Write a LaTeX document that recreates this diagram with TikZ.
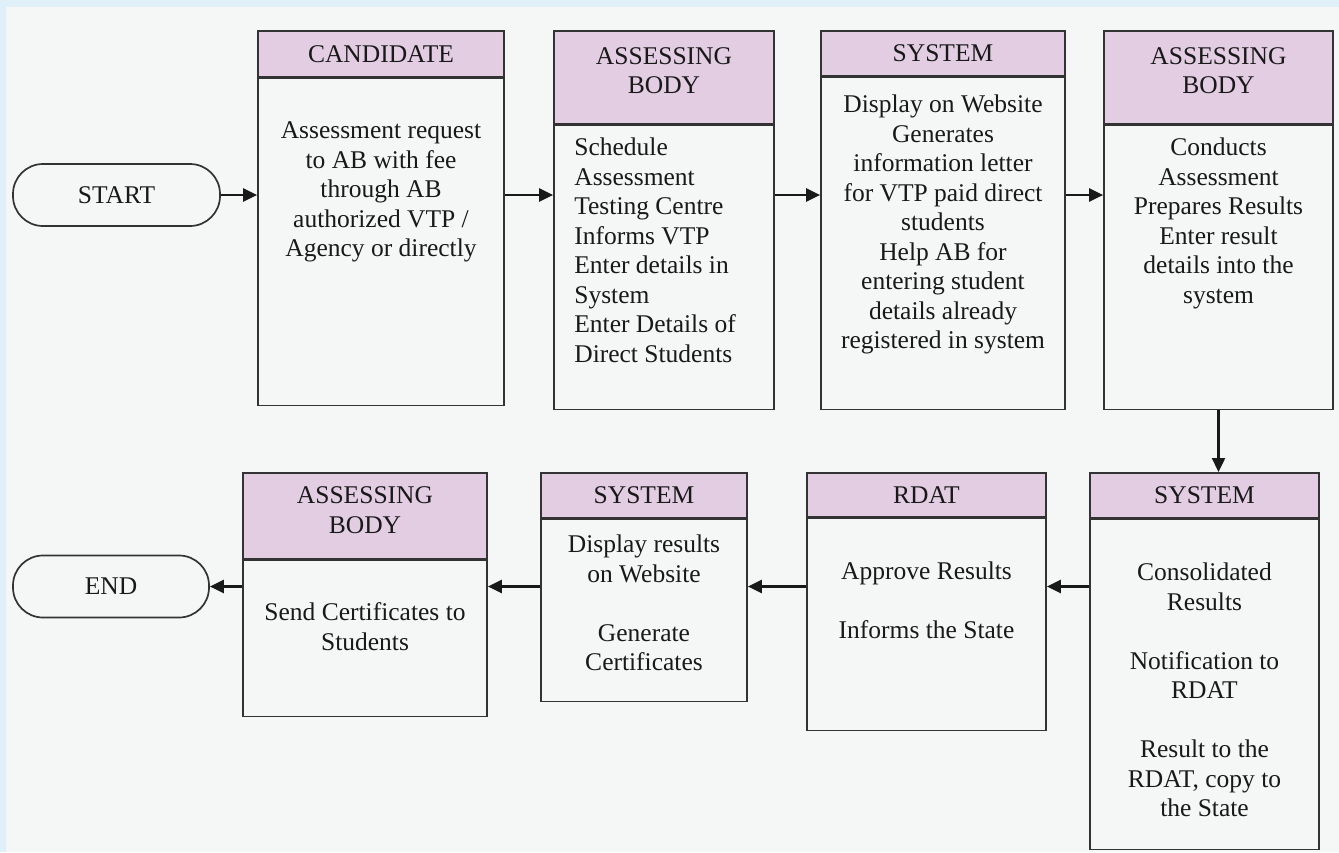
\documentclass[tikz,border=0pt]{standalone}
\usepackage{fontspec}
\setmainfont{Liberation Serif}
\usepackage{xcolor}
\usetikzlibrary{positioning}
\usetikzlibrary{arrows.meta}
\definecolor{headfill}{HTML}{E3CDE3}
\definecolor{boxline}{HTML}{333333}
\definecolor{pagebg}{HTML}{F5F7F7}
\definecolor{pageedge}{HTML}{DFF0F8}
\begin{document}
\begin{tikzpicture}[x=1pt,y=-1pt,
  every node/.style={font=\fontsize{25.5}{29.5}\selectfont, text=black!90},
  term/.style={draw=boxline, line width=1.7pt, rounded corners=30pt, minimum width=#1, minimum height=62pt, inner sep=0pt},
  head/.style n args={2}{draw=boxline, fill=headfill, line width=1.7pt, anchor=north, align=center, inner sep=0pt, minimum width=#1, minimum height=#2},
  body/.style n args={3}{draw=boxline, line width=1.7pt, inner sep=0pt, below=0pt of #1, minimum width=#2, minimum height=#3},
  txt/.style={align=center, inner sep=0pt},
  arr/.style={draw=black!90, line width=2.4pt, -{Triangle[length=14pt,width=13pt]}}]
\fill[pageedge] (0,0) rectangle (1339,852);
\fill[pagebg] (6,7) rectangle (1339,852);
\node[term=207pt] (start) at (116.5,195) {START};
\node[term=196pt] (end) at (111,586.5) {END};
\node[head={246pt}{46pt}] (h1) at (381,30) {CANDIDATE};
\node[body={h1}{246pt}{327pt}] (b1) {};
\node[txt, below=44pt of h1] (t1) {Assessment request\\to AB with fee\\through AB\\authorized VTP /\\Agency or directly};
\node[head={220pt}{93pt}, text depth=14pt] (h2) at (664,30) {ASSESSING\\BODY};
\node[body={h2}{220pt}{284pt}] (b2) {};
\node[txt, align=left, below right=13pt and 21pt of b2.north west] (t2) {Schedule\\Assessment\\Testing Centre\\Informs VTP\\Enter details in\\System\\Enter Details of\\Direct Students};
\node[head={244pt}{45pt}] (h3) at (943,30) {SYSTEM};
\node[body={h3}{244pt}{332pt}] (b3) {};
\node[txt, below=18pt of h3] (t3) {Display on Website\\Generates\\information letter\\for VTP paid direct\\students\\Help AB for\\entering student\\details already\\registered in system};
\node[head={229pt}{93pt}, text depth=14pt] (h4) at (1218.5,30) {ASSESSING\\BODY};
\node[body={h4}{229pt}{284pt}] (b4) {};
\node[txt, below=13pt of h4] (t4) {Conducts\\Assessment\\Prepares Results\\Enter result\\details into the\\system};
\node[head={229pt}{45pt}] (h5) at (1204.5,472) {SYSTEM};
\node[body={h5}{229pt}{330pt}] (b5) {};
\node[txt, below=44pt of h5] (t5) {Consolidated\\Results\\[29.5pt]Notification to\\RDAT\\[29.5pt]Result to the\\RDAT, copy to\\the State};
\node[head={239pt}{44pt}] (h6) at (926.5,472) {RDAT};
\node[body={h6}{239pt}{212pt}] (b6) {};
\node[txt, below=44pt of h6] (t6) {Approve Results\\[29.5pt]Informs the State};
\node[head={206pt}{45pt}] (h7) at (644,472) {SYSTEM};
\node[body={h7}{206pt}{182pt}] (b7) {};
\node[txt, below=16pt of h7] (t7) {Display results\\on Website\\[29.5pt]Generate\\Certificates};
\node[head={244pt}{86pt}, text depth=12pt] (h8) at (365,472) {ASSESSING\\BODY};
\node[body={h8}{244pt}{156pt}] (b8) {};
\node[txt, below=43pt of h8] (t8) {Send Certificates to\\Students};
\draw[arr] (start.east) -- (start.east -| b1.west);
\draw[arr] (b1.east |- start) -- (b2.west |- start);
\draw[arr] (b2.east |- start) -- (b3.west |- start);
\draw[arr] (b3.east |- start) -- (b4.west |- start);
\draw[arr] (b4.south) -- (b4.south |- h5.north);
\draw[arr] (b5.west |- end) -- (b6.east |- end);
\draw[arr] (b6.west |- end) -- (b7.east |- end);
\draw[arr] (b7.west |- end) -- (b8.east |- end);
\draw[arr] (b8.west |- end) -- (end.east);
\end{tikzpicture}
\end{document}
